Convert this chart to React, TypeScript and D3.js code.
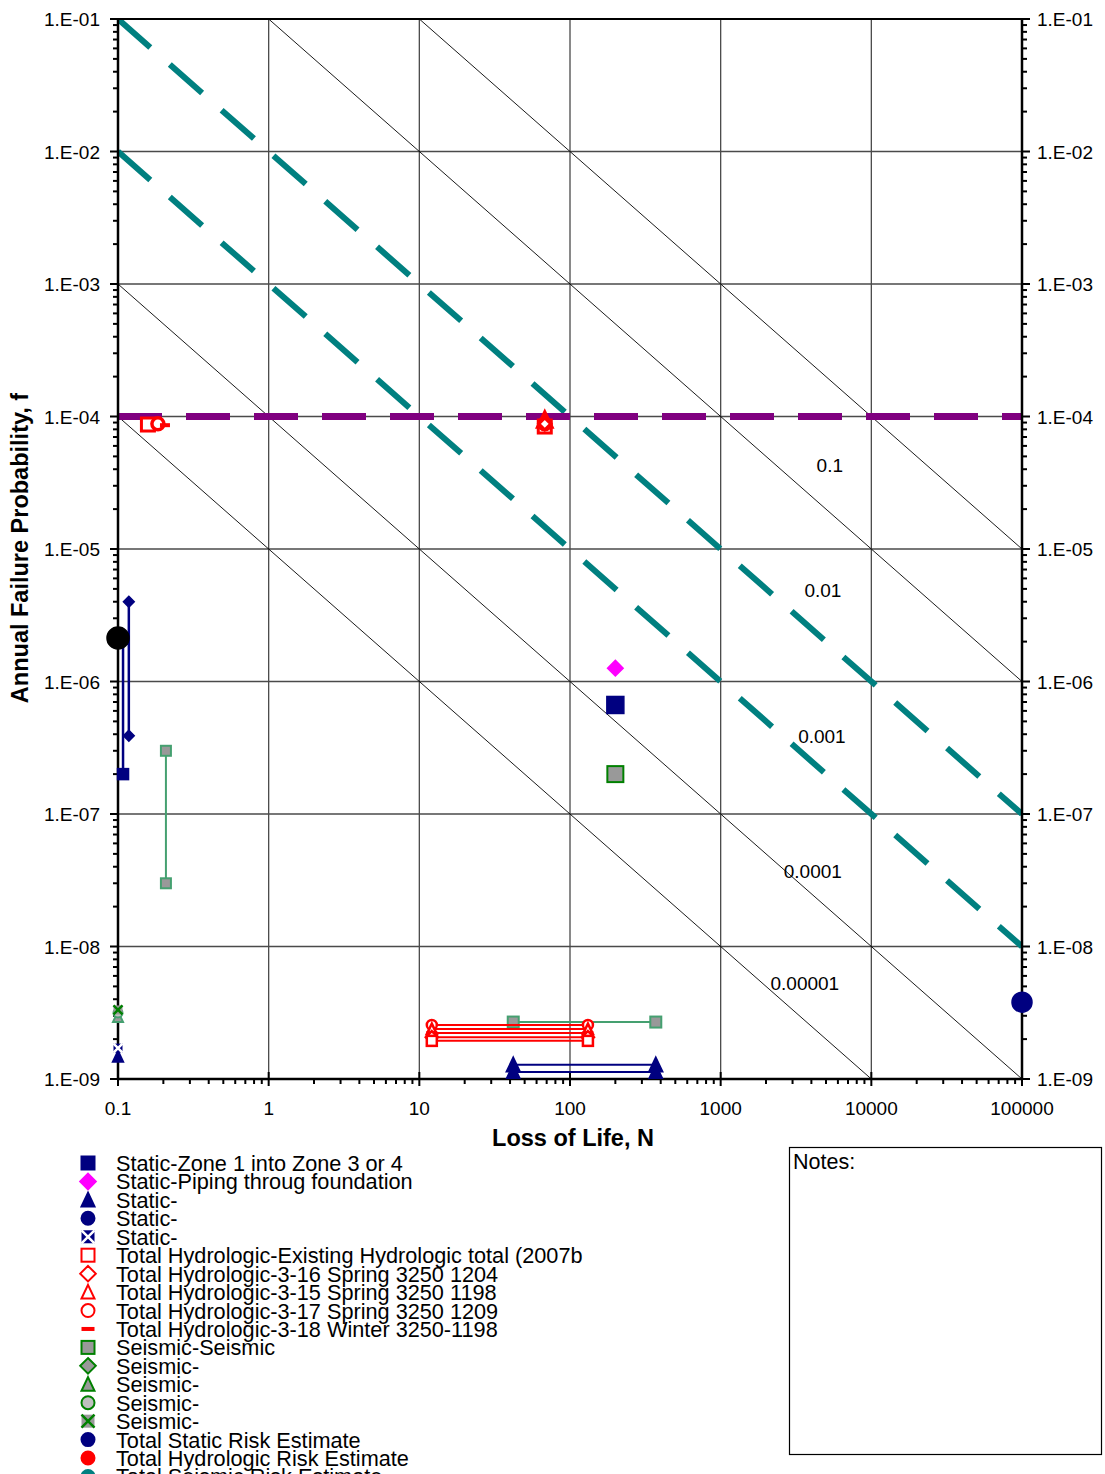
import React, { useEffect, useRef } from 'react';
import * as d3 from 'd3';

// axis ticks
const xTicks = [0.1, 1, 10, 100, 1000, 10000, 100000];
const xTickLabels = ['0.1', '1', '10', '100', '1000', '10000', '100000'];
const yTicks = [1e-1, 1e-2, 1e-3, 1e-4, 1e-5, 1e-6, 1e-7, 1e-8, 1e-9];
const yTickLabels = ['1.E-01', '1.E-02', '1.E-03', '1.E-04', '1.E-05', '1.E-06', '1.E-07', '1.E-08', '1.E-09'];

// f*N = const guide lines
const diagProducts = [1, 0.1, 0.0001, 0.00001];
const tealProducts = [0.01, 0.001]; // teal dashed guidelines
const diagLabels = ['0.1', '0.01', '0.001', '0.0001', '0.00001'];
const diagLabelN = [5300, 4770, 4700, 4090, 3620];
const diagLabelF = [4.3e-5, 4.9e-6, 3.9e-7, 3.7e-8, 5.3e-9];
const purpleF = 1e-4;

// series: [N, f]
const staticZone1 = [[200, 6.65e-7]];
const staticZone1Range = [[0.108, 2.0e-7], [0.108, 2.1e-6]];
const staticPiping = [[200, 1.26e-6]];
const staticPipingRange = [[0.118, 4.0e-6], [0.118, 3.9e-7]];
const staticTriA = [[42, 1.28e-9], [371, 1.28e-9]];
const staticTriB = [[42, 1.13e-9], [371, 1.13e-9]];
const staticTriLeft = [[0.1, 1.48e-9]];
const staticXLeft = [[0.1, 1.71e-9]];

const hydroSquare = [[0.158, 8.7e-5], [68, 8.4e-5]];
const hydroSquareRange = [[12.1, 1.94e-9], [131.5, 1.94e-9]];
const hydroDiamond = [[68, 8.8e-5]];
const hydroDiamondRange = [[12.1, 2.07e-9], [131.5, 2.07e-9]];
const hydroTriangle = [[68, 9.4e-5]];
const hydroTriangleRange = [[12.1, 2.38e-9], [131.5, 2.38e-9]];
const hydroCircle = [[0.184, 8.8e-5], [68, 8.8e-5]];
const hydroCircleRange = [[12.1, 2.56e-9], [131.5, 2.56e-9]];
const hydroDash = [[0.205, 8.6e-5]];
const hydroDashRange = [[12.1, 2.22e-9], [131.5, 2.22e-9]];

const seismic = [[200, 2.0e-7]];
const seismicRangeV = [[0.208, 3.0e-7], [0.208, 3.0e-8]];
const seismicRangeH = [[42, 2.69e-9], [371, 2.69e-9]];
const seismicX = [[0.1, 3.32e-9]];
const seismicCircle = [[0.1, 3.15e-9]];
const seismicTriangle = [[0.1, 2.94e-9]];

const totalStatic = [[100000, 3.8e-9]];
const totalBlack = [[0.1, 2.13e-6]];

const legendLabels = [
  'Static-Zone 1 into Zone 3 or 4',
  'Static-Piping throug foundation',
  'Static-',
  'Static-',
  'Static-',
  'Total Hydrologic-Existing Hydrologic total (2007b',
  'Total Hydrologic-3-16 Spring 3250 1204',
  'Total Hydrologic-3-15 Spring 3250 1198',
  'Total Hydrologic-3-17 Spring 3250 1209',
  'Total Hydrologic-3-18 Winter 3250-1198',
  'Seismic-Seismic',
  'Seismic-',
  'Seismic-',
  'Seismic-',
  'Seismic-',
  'Total Static Risk Estimate',
  'Total Hydrologic Risk Estimate',
  'Total Seismic Risk Estimate',
];
const legendShapes = ['square', 'diamond', 'triangle', 'circle', 'xsquare', 'square', 'diamond', 'triangle', 'circle', 'dash',
  'square', 'diamond', 'triangle', 'circle', 'xsquare', 'dot', 'dot', 'dot'];
const legendFill = ['#000080', '#ff00ff', '#000080', '#000080', '#000080', '#fff', '#fff', '#fff', '#fff', '#ff0000',
  '#999999', '#999999', '#999999', '#c0c0c0', '#999999', '#000080', '#ff0000', '#008080'];
const legendStroke = ['#000080', '#ff00ff', '#000080', '#000080', '#000080', '#ff0000', '#ff0000', '#ff0000', '#ff0000', '#ff0000',
  '#008000', '#008000', '#008000', '#008000', '#008000', '#000080', '#ff0000', '#008080'];

const NAVY = '#000080';
const RED = '#ff0000';
const GREEN = '#45a070';

const font = 'Arial, "Liberation Sans", sans-serif';

function drawMarker(g, shape, cx, cy, size, fill, stroke, sw = 1.5) {
  const h = size / 2;
  if (shape === 'square') {
    g.append('rect').attr('x', cx - h).attr('y', cy - h).attr('width', size).attr('height', size)
      .attr('fill', fill).attr('stroke', stroke).attr('stroke-width', sw);
  } else if (shape === 'diamond') {
    g.append('path').attr('d', `M${cx},${cy - h * 1.2}L${cx + h * 1.2},${cy}L${cx},${cy + h * 1.2}L${cx - h * 1.2},${cy}Z`)
      .attr('fill', fill).attr('stroke', stroke).attr('stroke-width', sw);
  } else if (shape === 'triangle') {
    g.append('path').attr('d', `M${cx},${cy - h * 1.1}L${cx + h},${cy + h}L${cx - h},${cy + h}Z`)
      .attr('fill', fill).attr('stroke', stroke).attr('stroke-width', sw);
  } else if (shape === 'circle' || shape === 'dot') {
    g.append('circle').attr('cx', cx).attr('cy', cy).attr('r', h)
      .attr('fill', fill).attr('stroke', stroke).attr('stroke-width', sw);
  } else if (shape === 'xsquare') {
    g.append('rect').attr('x', cx - h).attr('y', cy - h).attr('width', size).attr('height', size)
      .attr('fill', fill).attr('stroke', 'none');
    const xc = fill === NAVY ? '#fff' : stroke;
    g.append('path').attr('d', `M${cx - h},${cy - h}L${cx + h},${cy + h}M${cx + h},${cy - h}L${cx - h},${cy + h}`)
      .attr('stroke', xc).attr('stroke-width', 2.5);
  } else if (shape === 'dash') {
    g.append('rect').attr('x', cx - h).attr('y', cy - 2).attr('width', size).attr('height', 4).attr('fill', fill);
  }
}

const App = () => {
  const ref = useRef(null);

  useEffect(() => {
    document.body.style.margin = '0';
    const width = 1105;
    const height = 1474;
    const left = 118, right = 1022, top = 19, bottom = 1079;

    d3.select(ref.current).selectAll('*').remove();
    const svg = d3.select(ref.current).append('svg')
      .attr('width', width).attr('height', height)
      .style('display', 'block')
      .style('font-family', font)
      .style('background', '#fff');

    const x = d3.scaleLog().domain([0.1, 100000]).range([left, right]);
    const y = d3.scaleLog().domain([1e-9, 1e-1]).range([bottom, top]);

    svg.append('clipPath').attr('id', 'plot-clip').append('rect')
      .attr('x', left).attr('y', top).attr('width', right - left).attr('height', bottom - top);

    // gridlines
    const grid = svg.append('g');
    xTicks.forEach(t => {
      grid.append('line').attr('x1', x(t)).attr('x2', x(t)).attr('y1', top).attr('y2', bottom)
        .attr('stroke', '#4a4a4a').attr('stroke-width', 1.3);
    });
    yTicks.forEach(t => {
      grid.append('line').attr('x1', left).attr('x2', right).attr('y1', y(t)).attr('y2', y(t))
        .attr('stroke', '#4a4a4a').attr('stroke-width', 1.3);
    });

    const plot = svg.append('g').attr('clip-path', 'url(#plot-clip)');

    // thin f*N lines
    const line = d3.line().x(d => x(d[0])).y(d => y(d[1]));
    const diagPts = p => {
      const n0 = Math.max(0.1, p / 0.1);
      const n1 = Math.min(100000, p / 1e-9);
      return [[n0, p / n0], [n1, p / n1]];
    };
    diagProducts.forEach(p => {
      plot.append('path').attr('d', line(diagPts(p))).attr('fill', 'none')
        .attr('stroke', '#000').attr('stroke-width', 0.9);
    });

    // teal dashed guidelines
    tealProducts.forEach(p => {
      plot.append('path').attr('d', line(diagPts(p))).attr('fill', 'none')
        .attr('stroke', '#008080').attr('stroke-width', 6).attr('stroke-dasharray', '43,26');
    });

    // purple horizontal dashed
    plot.append('path').attr('d', line([[0.1, purpleF], [100000, purpleF]])).attr('fill', 'none')
      .attr('stroke', '#800080').attr('stroke-width', 7).attr('stroke-dasharray', '44,24');

    // diag labels
    diagLabels.forEach((l, i) => {
      svg.append('text').attr('x', x(diagLabelN[i])).attr('y', y(diagLabelF[i]) + 7)
        .attr('text-anchor', 'middle').attr('font-size', 19).attr('fill', '#000').text(l);
    });

    // axes frame
    const axes = svg.append('g').attr('stroke', '#000');
    axes.append('line').attr('x1', left).attr('x2', right).attr('y1', top).attr('y2', top).attr('stroke-width', 2);
    axes.append('line').attr('x1', left).attr('x2', left).attr('y1', top).attr('y2', bottom).attr('stroke-width', 2.5);
    axes.append('line').attr('x1', right).attr('x2', right).attr('y1', top).attr('y2', bottom).attr('stroke-width', 2.5);
    axes.append('line').attr('x1', left).attr('x2', right).attr('y1', bottom).attr('y2', bottom).attr('stroke-width', 2.5);

    // y ticks (major + minor)
    for (let e = -9; e < -1; e++) {
      for (let m = 2; m <= 9; m++) {
        const v = m * Math.pow(10, e);
        axes.append('line').attr('x1', left - 5).attr('x2', left).attr('y1', y(v)).attr('y2', y(v)).attr('stroke-width', 2);
        axes.append('line').attr('x1', right).attr('x2', right + 5).attr('y1', y(v)).attr('y2', y(v)).attr('stroke-width', 2);
      }
    }
    yTicks.forEach((t, i) => {
      axes.append('line').attr('x1', left - 8).attr('x2', left).attr('y1', y(t)).attr('y2', y(t)).attr('stroke-width', 2);
      axes.append('line').attr('x1', right).attr('x2', right + 8).attr('y1', y(t)).attr('y2', y(t)).attr('stroke-width', 2);
      svg.append('text').attr('x', left - 18).attr('y', y(t) + 7).attr('text-anchor', 'end')
        .attr('font-size', 19).text(yTickLabels[i]);
      svg.append('text').attr('x', right + 15).attr('y', y(t) + 7).attr('text-anchor', 'start')
        .attr('font-size', 19).text(yTickLabels[i]);
    });

    // x ticks
    for (let e = -1; e < 5; e++) {
      for (let m = 2; m <= 9; m++) {
        const v = m * Math.pow(10, e);
        axes.append('line').attr('x1', x(v)).attr('x2', x(v)).attr('y1', bottom).attr('y2', bottom + 5).attr('stroke-width', 2);
      }
    }
    xTicks.forEach((t, i) => {
      axes.append('line').attr('x1', x(t)).attr('x2', x(t)).attr('y1', bottom - 7).attr('y2', bottom + 7).attr('stroke-width', 2);
      svg.append('text').attr('x', x(t)).attr('y', 1115).attr('text-anchor', 'middle')
        .attr('font-size', 19).text(xTickLabels[i]);
    });

    // axis titles
    svg.append('text').attr('x', 573).attr('y', 1146).attr('text-anchor', 'middle')
      .attr('font-size', 23.5).attr('font-weight', 'bold').text('Loss of Life, N');
    svg.append('text').attr('transform', 'translate(28,548) rotate(-90)').attr('text-anchor', 'middle')
      .attr('font-size', 23.5).attr('font-weight', 'bold').text('Annual Failure Probability, f');

    // data layer (not clipped so markers on the edge stay whole, except bottom ones)
    const data = svg.append('g');
    const dataClip = svg.append('g').attr('clip-path', 'url(#plot-clip)');

    const connector = (g, pts, color, w = 2) => {
      g.append('path').attr('d', line(pts)).attr('fill', 'none').attr('stroke', color).attr('stroke-width', w);
    };
    const markers = (g, pts, shape, size, fill, stroke, sw = 1.5) => {
      pts.forEach(p => drawMarker(g, shape, x(p[0]), y(p[1]), size, fill, stroke, sw));
    };

    // static ranges
    connector(data, staticZone1Range, NAVY, 2.5);
    markers(data, staticZone1Range, 'square', 11, NAVY, NAVY);
    connector(data, staticPipingRange, NAVY, 2.5);
    markers(data, staticPipingRange, 'diamond', 9, NAVY, NAVY);

    // seismic ranges
    connector(data, seismicRangeV, GREEN, 2);
    markers(data, seismicRangeV, 'square', 10, '#999999', GREEN, 2);
    connector(dataClip, seismicRangeH, GREEN, 2);
    markers(dataClip, seismicRangeH, 'square', 11, '#999999', GREEN, 2);

    // hydrologic ranges bottom
    [hydroCircleRange, hydroTriangleRange, hydroDashRange, hydroDiamondRange, hydroSquareRange].forEach(r => {
      connector(dataClip, r, RED, 2);
    });
    markers(dataClip, hydroCircleRange, 'circle', 10, '#fff', RED, 2.5);
    markers(dataClip, hydroTriangleRange, 'triangle', 10, '#fff', RED, 2.5);
    markers(dataClip, hydroDashRange, 'dash', 11, RED, RED);
    markers(dataClip, hydroDiamondRange, 'diamond', 10, '#fff', RED, 2.5);
    markers(dataClip, hydroSquareRange, 'square', 10, '#fff', RED, 2.5);

    // static bottom triangles
    connector(dataClip, staticTriA, NAVY, 2);
    connector(dataClip, staticTriB, NAVY, 2);
    markers(dataClip, staticTriA, 'triangle', 14, NAVY, NAVY);
    markers(dataClip, staticTriB, 'triangle', 14, NAVY, NAVY);

    // left-edge markers
    markers(data, staticTriLeft, 'triangle', 11, NAVY, NAVY);
    markers(data, staticXLeft, 'xsquare', 9, NAVY, NAVY);
    markers(data, seismicTriangle, 'triangle', 10, '#999999', GREEN, 2);
    markers(data, seismicCircle, 'circle', 9, '#c0c0c0', GREEN, 2);
    markers(data, seismicX, 'xsquare', 9, '#999999', '#008000');

    // hydrologic near 1E-04
    markers(data, hydroTriangle, 'triangle', 14, '#fff', RED, 3.5);
    markers(data, hydroSquare, 'square', 13, '#fff', RED, 3);
    markers(data, hydroCircle, 'circle', 12, '#fff', RED, 3.5);
    markers(data, hydroDiamond, 'diamond', 10, '#fff', RED, 3);
    markers(data, hydroDash, 'dash', 10, RED, RED);

    // main points
    markers(data, staticPiping, 'diamond', 13, '#ff00ff', '#ff00ff');
    markers(data, staticZone1, 'square', 17, NAVY, NAVY);
    markers(data, seismic, 'square', 16, '#999999', '#008000', 2);

    // totals
    markers(data, totalBlack, 'dot', 22, '#000', '#000');
    markers(data, totalStatic, 'dot', 20, NAVY, NAVY);

    // legend
    const lg = svg.append('g');
    legendLabels.forEach((l, i) => {
      const cy = 1163 + i * 18.44;
      const s = legendShapes[i];
      drawMarker(lg, s, 88, cy, 13, legendFill[i], legendStroke[i], 2);
      lg.append('text').attr('x', 116).attr('y', cy + 8).attr('font-size', 21.7).text(l);
    });

    // notes box
    svg.append('rect').attr('x', 789.5).attr('y', 1147.5).attr('width', 312).attr('height', 307)
      .attr('fill', '#fff').attr('stroke', '#000').attr('stroke-width', 1.2);
    svg.append('text').attr('x', 793).attr('y', 1169).attr('font-size', 21.5).text('Notes:');
  }, []);

  return <div ref={ref}></div>;
};

export default App;
